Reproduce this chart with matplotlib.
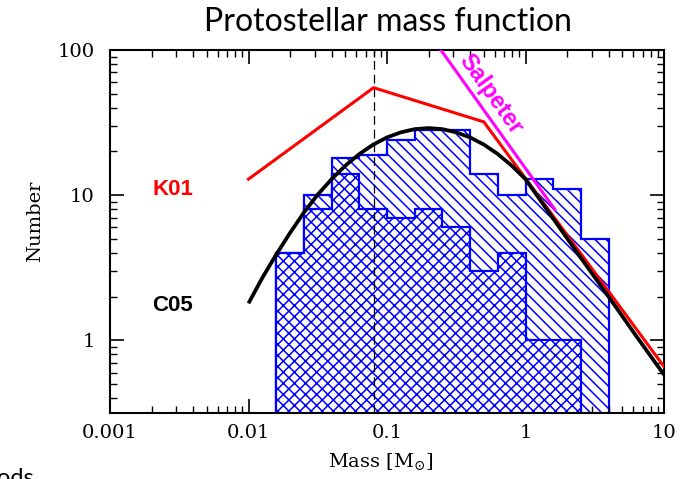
import numpy as np
import matplotlib
matplotlib.use("Agg")
import matplotlib.pyplot as plt

# Histogram bins (log10 of mass in solar masses)
log_edges = [-1.8, -1.6, -1.4, -1.2, -1.0, -0.8, -0.6, -0.4, -0.2, 0.0, 0.2, 0.4, 0.6]
all_counts = [4, 10, 18, 19, 24, 28, 28, 14, 10, 13, 11, 5]
sub_counts = [4, 8, 14, 8, 7, 8, 6, 3, 4, 1, 1]

# Kroupa (2001) broken power law
k01_mass = [0.01, 0.08, 0.5, 10.0]
k01_num = [12.9, 55.0, 32.0, 0.66]

# Chabrier (2005) log-normal + power-law tail
c05_logm = [-2.0, -1.9, -1.8, -1.7, -1.6, -1.5, -1.4, -1.3, -1.2, -1.1, -1.0,
            -0.9, -0.8, -0.7, -0.6, -0.5, -0.4, -0.3, -0.2, -0.1, 0.0,
            0.2, 0.4, 0.6, 0.8, 1.0]
c05_num = [1.8, 2.7, 3.9, 5.5, 7.6, 10.1, 12.9, 16.0, 19.2, 22.3, 25.0,
           27.1, 28.5, 29.0, 28.5, 27.1, 25.0, 22.3, 19.2, 16.0, 12.9,
           6.9, 3.7, 2.0, 1.07, 0.58]

# Salpeter slope segment
sal_mass = [0.245, 1.63]
sal_num = [100.0, 7.97]

brown_dwarf_limit = 0.08

edges = 10.0 ** np.array(log_edges)
c05_mass = 10.0 ** np.array(c05_logm)

plt.rcParams['hatch.linewidth'] = 1.1
plt.rcParams['mathtext.fontset'] = 'dejavuserif'

fig = plt.figure(figsize=(7.0, 4.79), dpi=100)
ax = fig.add_axes([110 / 700, 66 / 479, 554 / 700, 363 / 479])

blue = '#0000ff'
ax.stairs(all_counts, edges, baseline=1e-3, fill=True, facecolor='white',
          edgecolor=blue, hatch='\\\\\\', linewidth=1.6, zorder=1)
ax.stairs(sub_counts, edges[:len(sub_counts) + 1], baseline=1e-3, fill=True,
          facecolor='white', edgecolor=blue, hatch='xxx', linewidth=1.6, zorder=2)

ax.axvline(brown_dwarf_limit, color='black', lw=0.9, ls=(0, (7, 4)), zorder=3)

ax.plot(k01_mass, k01_num, color='#ff0000', lw=2.2, zorder=4)
ax.plot(sal_mass, sal_num, color='#ff00ff', lw=2.2, zorder=4)
ax.plot(c05_mass, c05_num, color='black', lw=2.7, zorder=5,
        solid_capstyle='butt')

ax.set_xscale('log')
ax.set_yscale('log')
ax.set_xlim(1e-3, 10)
ax.set_ylim(10 ** -0.5, 100)

for s in ax.spines.values():
    s.set_linewidth(1.5)

ax.tick_params(which='both', direction='in', top=True, right=True)
ax.tick_params(which='major', length=10, width=1.2)
ax.tick_params(which='minor', length=5, width=1.0)
ax.tick_params(axis='x', which='major', pad=8)
ax.tick_params(axis='y', which='major', pad=11)

ax.set_xticks([0.001, 0.01, 0.1, 1, 10])
ax.set_xticklabels(['0.001', '0.01', '0.1', '1', '10'])
ax.set_yticks([1, 10, 100])
ax.set_yticklabels(['1', '10', '100'])
for lab in ax.get_xticklabels() + ax.get_yticklabels():
    lab.set_fontfamily('DejaVu Serif')
    lab.set_fontsize(14)

ax.text(0.00285, 11, 'K01', color='#ff0000', fontsize=16, fontweight='heavy',
        family='Liberation Sans', ha='center', va='center')
ax.text(0.00285, 1.74, 'C05', color='black', fontsize=16, fontweight='heavy',
        family='Liberation Sans', ha='center', va='center')
ax.text(0.56, 50, 'Salpeter', color='#ff00ff', fontsize=17, fontweight='heavy',
        family='Liberation Sans', ha='center', va='center', rotation=-54.5,
        rotation_mode='anchor')

fig.text(35 / 700, (479 - 221) / 479, 'Number', rotation=90, family='DejaVu Serif',
         fontsize=14, ha='center', va='center')
fig.text(381 / 700, (479 - 462) / 479, r'Mass [M$_{\odot}$]', family='DejaVu Serif',
         fontsize=14, ha='center', va='center')

fig.text(388 / 700, (479 - 31) / 479, 'Protostellar mass function', family='Lato',
         fontsize=23, ha='center', va='baseline')
fig.text(-3 / 700, (479 - 485) / 479, 'ods', family='Lato', fontsize=17,
         ha='left', va='baseline')

fig.savefig('out.png', dpi=100)
